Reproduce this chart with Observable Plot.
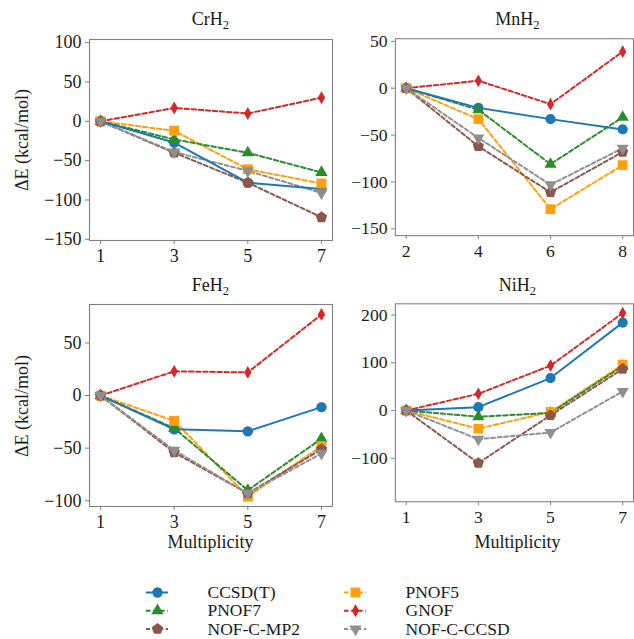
<!DOCTYPE html>
<html>
<head>
<meta charset="utf-8">
<script src="https://cdn.jsdelivr.net/npm/d3@7"></script>
<script src="https://cdn.jsdelivr.net/npm/@observablehq/plot@0.6"></script>
<style>
  html, body { margin: 0; padding: 0; background: #fff; }
  #chart { position: relative; width: 634px; height: 639px; overflow: hidden; background: #fff;
           font-family: "Liberation Serif", "DejaVu Serif", serif; color: #1a1a1a; }
  .abs { position: absolute; }
  .txt { position: absolute; font-size: 18px; line-height: 1; white-space: nowrap; }
  .txt sub { font-size: 70%; line-height: 0; vertical-align: -0.28em; }
  .center { transform: translateX(-50%); }
  .ylab { transform: translate(-50%, -50%) rotate(-90deg); }
</style>
</head>
<body>
<div id="chart"></div>
<script>
// ---------- data ----------
const series = ["CCSD(T)", "PNOF7", "NOF-C-MP2", "PNOF5", "GNOF", "NOF-C-CCSD"];

// CrH2
const crh2Mult = [1, 3, 5, 7];
const crh2CCSDT = [0, -27, -78, -86];
const crh2PNOF7 = [0, -23, -40, -65];
const crh2MP2 = [0, -40, -78, -122];
const crh2PNOF5 = [0, -12, -61, -79];
const crh2GNOF = [0, 17, 10, 30];
const crh2CCSD = [0, -39, -63, -91];
const crh2YTicks = [-150, -100, -50, 0, 50, 100];

// MnH2
const mnh2Mult = [2, 4, 6, 8];
const mnh2CCSDT = [0, -21, -33, -44];
const mnh2PNOF7 = [0, -23, -81, -31];
const mnh2MP2 = [0, -62, -111, -68];
const mnh2PNOF5 = [0, -33, -129, -82];
const mnh2GNOF = [0, 8, -17, 39];
const mnh2CCSD = [0, -53, -103, -64];
const mnh2YTicks = [-150, -100, -50, 0, 50];

// FeH2
const feh2Mult = [1, 3, 5, 7];
const feh2CCSDT = [0, -32, -34, -11];
const feh2PNOF7 = [0, -31, -90, -41];
const feh2MP2 = [0, -54, -93, -51];
const feh2PNOF5 = [0, -24, -96, -48];
const feh2GNOF = [0, 23, 22, 77];
const feh2CCSD = [0, -52, -93, -55];
const feh2YTicks = [-100, -50, 0, 50];

// NiH2
const nih2Mult = [1, 3, 5, 7];
const nih2CCSDT = [0, 7, 68, 184];
const nih2PNOF7 = [0, -13, -5, 93];
const nih2MP2 = [0, -110, -10, 87];
const nih2PNOF5 = [0, -38, -3, 96];
const nih2GNOF = [0, 35, 94, 204];
const nih2CCSD = [0, -60, -46, 40];
const nih2YTicks = [-100, 0, 100, 200];

// ---------- styles ----------
const pentagon = {
  draw(ctx, size) {
    const R = Math.sqrt(size / 2.3776);
    for (let k = 0; k < 5; k++) {
      const a = -Math.PI / 2 + k * 2 * Math.PI / 5;
      const px = R * Math.cos(a), py = R * Math.sin(a);
      if (k === 0) ctx.moveTo(px, py); else ctx.lineTo(px, py);
    }
    ctx.closePath();
  }
};
const triDown = {
  draw(ctx, size) {
    const y = -Math.sqrt(size / (Math.sqrt(3) * 3));
    ctx.moveTo(0, -y * 2);
    ctx.lineTo(-Math.sqrt(3) * y, y);
    ctx.lineTo(Math.sqrt(3) * y, y);
    ctx.closePath();
  }
};
const style = {
  "CCSD(T)":    {color: "#1f77b4", dash: null,      symbol: "circle",   r: 5.2},
  "PNOF7":      {color: "#2a8c2a", dash: "4.5,2.6", symbol: "triangle", r: 4.6},
  "NOF-C-MP2":  {color: "#8c564b", dash: "4,2.6",   symbol: pentagon,   r: 5.2},
  "PNOF5":      {color: "#ff9f10", dash: "4.5,2.6", symbol: "square",   r: 5.6},
  "GNOF":       {color: "#d62728", dash: "4.5,2.6", symbol: "diamond",  r: 3.9},
  "NOF-C-CCSD": {color: "#8f8f8f", dash: "4,2.6",   symbol: triDown,    r: 4.6}
};
const lineOrder = ["PNOF5", "PNOF7", "GNOF", "NOF-C-MP2", "NOF-C-CCSD", "CCSD(T)"];
const dotOrder = ["CCSD(T)", "PNOF7", "PNOF5", "GNOF", "NOF-C-MP2", "NOF-C-CCSD"];
const FONT = "'Liberation Serif', 'DejaVu Serif', serif";
const fmt = d => d < 0 ? "\u2212" + Math.abs(d) : String(d);

function panel({mult, vals, xDomain, yDomain, yTicks, width, height, mt, mb, ml, mr}) {
  const rows = [];
  series.forEach((s, i) => vals[i].forEach((v, j) => rows.push({s, x: mult[j], y: v})));
  const marks = [
    Plot.frame({stroke: "#808080", strokeWidth: 1.1}),
    Plot.axisX({ticks: mult, tickSize: 4, tickPadding: 5, tickFormat: fmt, stroke: "#808080", fill: "#1a1a1a", label: null}),
    Plot.axisY({ticks: yTicks, tickSize: 4, tickPadding: 4, tickFormat: fmt, stroke: "#808080", fill: "#1a1a1a", label: null})
  ];
  for (const s of lineOrder) {
    const st = style[s];
    marks.push(Plot.line(rows.filter(r => r.s === s), {
      x: "x", y: "y", stroke: st.color, strokeWidth: 2,
      strokeDasharray: st.dash || undefined
    }));
  }
  for (const s of dotOrder) {
    const st = style[s];
    marks.push(Plot.dot(rows.filter(r => r.s === s), {
      x: "x", y: "y", symbol: st.symbol, r: st.r, fill: st.color, stroke: "none"
    }));
  }
  return Plot.plot({
    width, height,
    marginTop: mt, marginBottom: mb, marginLeft: ml, marginRight: mr,
    x: {domain: xDomain},
    y: {domain: yDomain},
    style: {fontFamily: FONT, fontSize: "18px", background: "transparent", overflow: "visible"},
    marks
  });
}

const chart = document.getElementById("chart");
function place(node, left, top) {
  const w = document.createElement("div");
  w.className = "abs";
  w.style.left = left + "px";
  w.style.top = top + "px";
  w.appendChild(node);
  chart.appendChild(w);
}
function addText(html, left, top, cls) {
  const d = document.createElement("div");
  d.className = "txt " + cls;
  d.style.left = left + "px";
  d.style.top = top + "px";
  d.innerHTML = html;
  chart.appendChild(d);
}

// Panels
place(panel({mult: crh2Mult, vals: [crh2CCSDT, crh2PNOF7, crh2MP2, crh2PNOF5, crh2GNOF, crh2CCSD],
  xDomain: [0.7, 7.3], yDomain: [-151.5, 104], yTicks: crh2YTicks,
  width: 340, height: 280, mt: 39, mb: 40, ml: 89, mr: 8}), 0, 0);
place(panel({mult: mnh2Mult, vals: [mnh2CCSDT, mnh2PNOF7, mnh2MP2, mnh2PNOF5, mnh2GNOF, mnh2CCSD],
  xDomain: [1.7, 8.3], yDomain: [-157.3, 52.8], yTicks: mnh2YTicks,
  width: 300, height: 280, mt: 39, mb: 40, ml: 56, mr: 1}), 340, 0);
place(panel({mult: feh2Mult, vals: [feh2CCSDT, feh2PNOF7, feh2MP2, feh2PNOF5, feh2GNOF, feh2CCSD],
  xDomain: [0.7, 7.3], yDomain: [-105.4, 86.5], yTicks: feh2YTicks,
  width: 340, height: 290, mt: 34, mb: 54, ml: 89, mr: 8}), 0, 270);
place(panel({mult: nih2Mult, vals: [nih2CCSDT, nih2PNOF7, nih2MP2, nih2PNOF5, nih2GNOF, nih2CCSD],
  xDomain: [0.7, 7.3], yDomain: [-191, 223.4], yTicks: nih2YTicks,
  width: 300, height: 290, mt: 34, mb: 54, ml: 56, mr: 1}), 340, 270);

// Titles and labels
addText("CrH<sub>2</sub>", 210.5, 10, "center");
addText("MnH<sub>2</sub>", 517.5, 10, "center");
addText("FeH<sub>2</sub>", 210.5, 276, "center");
addText("NiH<sub>2</sub>", 517.5, 276, "center");
addText("\u0394E (kcal/mol)", 22, 140, "ylab");
addText("\u0394E (kcal/mol)", 22, 406, "ylab");
addText("Multiplicity", 210.5, 533, "center");
addText("Multiplicity", 517.5, 533, "center");

// Legend
const legendX = [157, 355];
const legendRows = series.map((s, i) => ({s, cx: legendX[Math.floor(i / 3)], row: i % 3}));
const legendMarks = [];
for (const d of legendRows) {
  const st = style[d.s];
  legendMarks.push(Plot.ruleY([d], {x1: d.cx - 11, x2: d.cx + 11, y: "row", stroke: st.color, strokeWidth: 2, strokeDasharray: st.dash || undefined}));
  legendMarks.push(Plot.dot([d], {x: "cx", y: "row", symbol: st.symbol, r: st.r, fill: st.color, stroke: "none"}));
}
legendMarks.push(Plot.text(legendRows, {x: d => d.cx + 50, y: "row", text: "s", textAnchor: "start", fill: "#1a1a1a"}));
place(Plot.plot({
  width: 634, height: 62, margin: 0,
  x: {type: "linear", domain: [0, 634], range: [0, 634], axis: null},
  y: {type: "linear", domain: [0, 2], range: [17, 53.5], axis: null},
  style: {fontFamily: FONT, fontSize: "17.5px", background: "transparent", overflow: "visible"},
  marks: legendMarks
}), 0, 575);
</script>
</body>
</html>
